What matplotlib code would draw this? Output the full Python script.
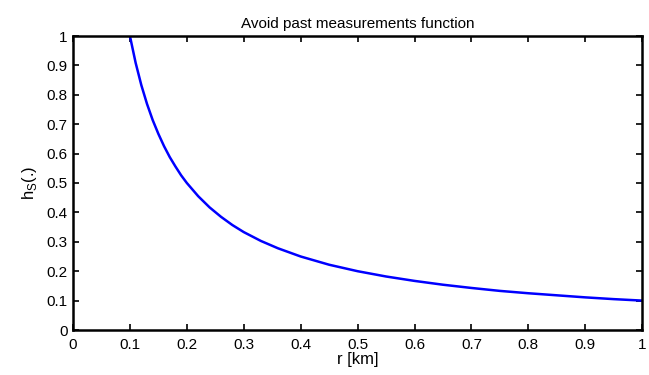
import matplotlib
matplotlib.use("Agg")
import matplotlib.pyplot as plt

plt.rcParams['font.family'] = ['Liberation Sans', 'DejaVu Sans']

# values
r_km = [0.10, 0.11, 0.12, 0.13, 0.14, 0.15, 0.16, 0.17, 0.18, 0.19, 0.20,
        0.22, 0.24, 0.26, 0.28, 0.30, 0.33, 0.36, 0.40, 0.45, 0.50,
        0.55, 0.60, 0.65, 0.70, 0.75, 0.80, 0.85, 0.90, 0.95, 1.00]
h_s = [1.000, 0.909, 0.833, 0.769, 0.714, 0.667, 0.625, 0.588, 0.556, 0.526, 0.500,
       0.455, 0.417, 0.385, 0.357, 0.333, 0.303, 0.278, 0.250, 0.222, 0.200,
       0.182, 0.167, 0.154, 0.143, 0.133, 0.125, 0.118, 0.111, 0.105, 0.100]

x_ticks = [0, 0.1, 0.2, 0.3, 0.4, 0.5, 0.6, 0.7, 0.8, 0.9, 1]
y_ticks = [0, 0.1, 0.2, 0.3, 0.4, 0.5, 0.6, 0.7, 0.8, 0.9, 1]
tick_labels = ['0', '0.1', '0.2', '0.3', '0.4', '0.5', '0.6', '0.7', '0.8', '0.9', '1']

fig = plt.figure(figsize=(6.49, 3.75), dpi=100)
ax = fig.add_axes([0.1125, 0.12, 0.877, 0.784])

ax.plot(r_km, h_s, color='#0000ff', linewidth=1.8)

ax.set_xlim(0, 1)
ax.set_ylim(0, 1)
ax.set_xticks(x_ticks)
ax.set_yticks(y_ticks)
ax.set_xticklabels(tick_labels)
ax.set_yticklabels(tick_labels)
ax.tick_params(direction='in', top=True, right=True, length=4, width=1.2,
               labelsize=11)
ax.tick_params(axis='x', pad=6)
ax.tick_params(axis='y', pad=4)
for s in ax.spines.values():
    s.set_linewidth(1.8)

ax.set_xlabel('r [km]', fontsize=12, labelpad=0)
ax.set_ylabel(r'h$_\mathregular{S}$(.)', fontsize=12, labelpad=5)
ax.set_title('Avoid past measurements function', fontsize=11, pad=6)

fig.savefig('out.png', dpi=100)
